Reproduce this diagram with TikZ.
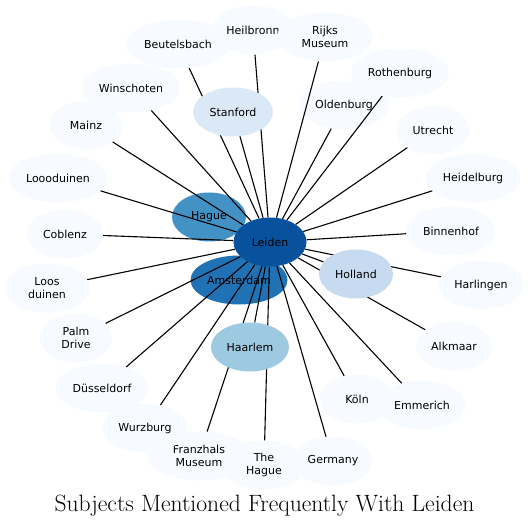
\documentclass[tikz,border=0pt]{standalone}
\usepackage{fontspec}
\setsansfont{DejaVu Sans}
\usetikzlibrary{shapes.geometric}
\definecolor{azulCero}{HTML}{F7FBFF}
\definecolor{azulStanford}{HTML}{DBE9F6}
\definecolor{azulHolland}{HTML}{C6DBEF}
\definecolor{azulHaarlem}{HTML}{9ECAE1}
\definecolor{azulHague}{HTML}{4292C6}
\definecolor{azulAmsterdam}{HTML}{2171B5}
\definecolor{azulLeiden}{HTML}{08519C}
\pgfdeclarelayer{fondo}
\pgfdeclarelayer{aristas}
\pgfsetlayers{fondo,aristas,main}

\begin{document}
\begin{tikzpicture}[x=1pt, y=-1pt,
    tema/.style={ellipse, minimum height=49pt, inner sep=0pt, align=center,
      font=\sffamily\fontsize{11}{12.5}\selectfont},
    arista/.style={line width=1.1pt, black}]
    \useasboundingbox (0,0) rectangle (529,526);

    % Poco frecuentes
    \begin{pgfonlayer}{fondo}
    \foreach \nm/\x/\y/\w/\txt in {
        beutelsbach/178/44/104/Beutelsbach, heilbronn/253/30/82/Heilbronn,
        rijks/325/37/96/{Rijks\\Museum}, rothenburg/400/73/98/Rothenburg,
        oldenburg/344/105/90/Oldenburg, utrecht/433/130/73/Utrecht,
        heidelburg/473/178/95/Heidelburg, binnenhof/451/231/90/Binnenhof,
        harlingen/481/285/85/Harlingen, alkmaar/454/346/76/Alkmaar,
        koln/357/399/74/Köln, emmerich/422/405/87/Emmerich,
        germany/333/461/79/Germany, thehague/264/465/82/{The\\Hague},
        franzhals/199/456/104/{Franzhals\\Museum}, wurzburg/145/428/85/Wurzburg,
        dusseldorf/102/388/93/Düsseldorf, palmdrive/76/338/73/{Palm\\Drive},
        loosduinen/47/288/85/{Loos\\duinen}, coblenz/65/234/76/Coblenz,
        looduinen/58/178/99/Loooduinen, mainz/86/125/73/Mainz,
        winschoten/131/88/98/Winschoten}
        \node[tema, fill=azulCero, minimum width=\w pt] (\nm) at (\x,\y) {\txt};
    \node[tema, fill=azulHague, minimum width=74pt] (hague) at (209,217) {Hague};
    \node[tema, fill=azulAmsterdam, minimum width=97pt] (amsterdam) at (239,280) {Amsterdam};
    \end{pgfonlayer}

    % Frecuentes
    \node[tema, fill=azulStanford, minimum width=80pt] (stanford) at (233,112) {Stanford};
    \node[tema, fill=azulHolland, minimum width=74pt] (holland) at (356,274) {Holland};
    \node[tema, fill=azulHaarlem, minimum width=78pt] (haarlem) at (250,347) {Haarlem};
    \node[tema, fill=azulLeiden, minimum width=73pt] (leiden) at (270,242) {Leiden};

    % Aristas
    \begin{pgfonlayer}{aristas}
    \foreach \t in {beutelsbach, heilbronn, rijks, rothenburg, oldenburg, utrecht,
        heidelburg, binnenhof, harlingen, alkmaar, koln, emmerich, germany,
        thehague, franzhals, wurzburg, dusseldorf, palmdrive, loosduinen,
        coblenz, looduinen, mainz, winschoten, stanford, holland, haarlem}
        \draw[arista] (leiden) -- (\t);
    \end{pgfonlayer}

    \node[anchor=base, font=\fontsize{23.6}{28}\selectfont] (titulo) at (264.5,511)
        {Subjects Mentioned Frequently With Leiden};
\end{tikzpicture}
\end{document}
